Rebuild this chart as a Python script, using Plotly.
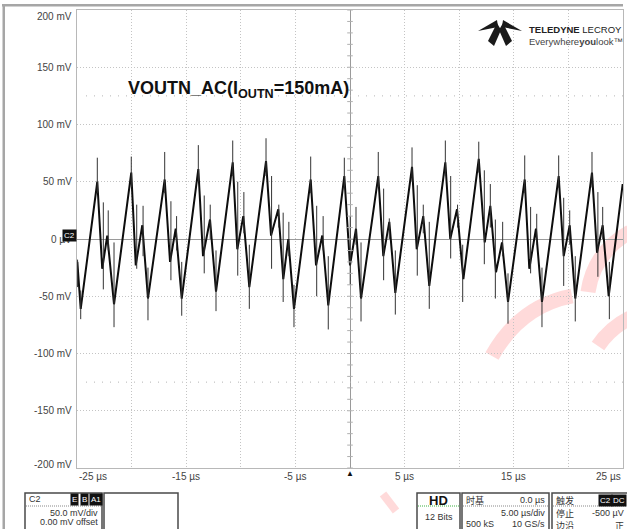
import plotly.graph_objects as go

# waveform vertices (time in us, amplitude in mV)
t_us = [-24.97, -24.66, -23.14, -22.69, -22.23, -21.61, -20.03, -19.62, -19.02, -18.50,
        -16.97, -16.48, -15.96, -15.41, -13.89, -13.46, -12.82, -12.27, -10.74, -10.32,
        -9.77, -9.22, -7.69, -7.23, -6.57, -6.11, -5.65, -5.13, -3.60, -3.11,
        -2.54, -1.99, -0.52, 0.00, 0.55, 1.01, 2.59, 3.05, 3.60, 4.15,
        5.68, 6.11, 6.71, 7.26, 8.73, 9.18, 9.80, 10.38, 11.79, 12.34,
        12.85, 13.37, 13.92, 14.47, 16.00, 16.42, 17.03, 17.58, 19.11, 19.57,
        20.12, 20.63, 22.16, 22.62, 23.14, 23.69, 24.97]
v_mv = [-20, -61, 50, -26, 3, -57, 58, -23, 12, -52,
        52, -20, 9, -52, 61, -15, 17, -46, 67, -9,
        20, -42, 68, 3, 26, -35, 0, -61, 52, -23,
        3, -58, 55, -23, 9, -52, 55, -15, 15, -47,
        63, -9, 20, -41, 67, 0, 26, -35, 70, -3,
        29, -29, -3, -55, 52, -26, 9, -55, 55, -15,
        12, -52, 58, -12, 12, -50, 48]

# narrow glitches on top of the ripple (time, low end, high end)
spike_t = [-24.95, -24.66, -23.14, -22.59, -22.14, -21.61,
           -20.03, -19.53, -18.95, -18.50,
           -16.97, -16.40, -15.88, -15.41,
           -13.89, -13.35, -12.80, -12.27,
           -10.74, -10.28, -9.72, -9.22,
           -7.69, -7.18, -6.52, -6.12, -5.60, -5.13,
           -3.60, -3.05, -2.46, -1.99,
           -0.52, 0.02, 0.55, 1.01,
           2.59, 3.08, 3.60, 4.15,
           5.68, 6.16, 6.71, 7.26,
           8.73, 9.22, 9.85, 10.32,
           11.79, 12.30, 12.85, 13.31, 13.98, 14.47,
           16.00, 16.54, 17.10, 17.58,
           19.11, 19.57, 20.12, 20.63,
           22.16, 22.70, 23.14, 23.75]
spike_lo = [-42, -70, 40, -44, -10, -77,
            45, -26, -15, -71,
            40, -36, -10, -67,
            50, -30, 0, -63,
            55, -32, 5, -61,
            55, -26, 10, -55, -15, -77,
            40, -50, -10, -79,
            45, -40, -5, -72,
            45, -36, 0, -66,
            50, -32, 5, -61,
            55, -17, 10, -55,
            58, -22, 10, -52, -15, -74,
            40, -30, -5, -77,
            45, -41, -5, -72,
            45, -33, 0, -70]
spike_hi = [-18, -45, 71, 32, 25, -3,
            72, 30, 29, -25,
            76, 33, 20, -20,
            82, 38, 30, -10,
            86, 50, 41, -5,
            88, 55, 30, 23, 15, -40,
            72, 29, 20, -15,
            71, 20, 28, -3,
            76, 44, 18, -10,
            80, 47, 30, 15,
            86, 55, 30, -5,
            85, 60, 48, 17, 15, -30,
            73, 28, 22, -25,
            73, 36, 25, -15,
            76, 41, 28, -20]

y_grid = [200, 150, 100, 50, 0, -50, -100, -150, -200]
y_text = ["200 mV", "150 mV", "100 mV", "50 mV", "0 \u00b5V", "-50 mV", "-100 mV", "-150 mV", "-200 mV"]
x_grid = [-25, -20, -15, -10, -5, 0, 5, 10, 15, 20, 25]
x_lab = [-25, -15, -5, 5, 15, 25]
x_text = ["-25 \u00b5s", "-15 \u00b5s", "-5 \u00b5s", "5 \u00b5s", "15 \u00b5s", "25 \u00b5s"]
cursor_levels = [125, -125]

W, H = 627, 529
L, R, T, B = 77, 4, 10, 61
FONT = "Liberation Sans, Arial, sans-serif"
CJK = "Noto Sans CJK SC, sans-serif"


def px(x):
    return (x - L) / (W - L - R)


def py(y):
    return (H - B - y) / (H - T - B)


fig = go.Figure()

fig.add_trace(go.Scatter(x=t_us, y=v_mv, mode="lines",
                         line=dict(color="#0d0d0d", width=2), hoverinfo="skip"))

sx, sy = [], []
for t, lo, hi in zip(spike_t, spike_lo, spike_hi):
    sx += [t, t, None]
    sy += [lo, hi, None]
fig.add_trace(go.Scatter(x=sx, y=sy, mode="lines",
                         line=dict(color="#333333", width=1), hoverinfo="skip"))

# small division marks on the centre cross
fig.add_trace(go.Scatter(x=[0] * 41, y=[-200 + 10 * i for i in range(41)], mode="markers",
                         marker=dict(symbol="line-ew", size=4, line=dict(color="#b0b0b0", width=1)),
                         hoverinfo="skip"))

shapes = []
for lv in cursor_levels:
    shapes.append(dict(type="line", xref="paper", yref="y", x0=px(86), x1=1, y0=lv, y1=lv,
                       line=dict(color="#b5b5b5", width=1, dash="1px,7px")))

# watermark arcs
wm = "rgba(255,70,70,0.2)"
for path in [
    f"M {px(492)},{py(356)} Q {px(520)},{py(306)} {px(572)},{py(296)}",
    f"M {px(588)},{py(292)} Q {px(594)},{py(252)} {px(630)},{py(232)}",
    f"M {px(598)},{py(346)} Q {px(610)},{py(328)} {px(630)},{py(318)}",
]:
    shapes.append(dict(type="path", xref="paper", yref="paper", path=path, layer="below",
                       line=dict(color=wm, width=15)))

# screen chrome: top and left bars
shapes.append(dict(type="rect", xref="paper", yref="paper", x0=px(2), x1=px(623), y0=py(4), y1=py(6.5),
                   fillcolor="#a6a6a6", line=dict(width=0)))
shapes.append(dict(type="rect", xref="paper", yref="paper", x0=px(2.5), x1=px(5), y0=py(4), y1=py(529),
                   fillcolor="#a6a6a6", line=dict(width=0)))

# teledyne emblem
emblem = [
    [(478, 31), (497, 20), (498, 27)],
    [(522, 31), (503, 20), (502, 27)],
    [(497, 23), (501, 30), (494, 46), (488, 41)],
    [(503, 23), (499, 30), (506, 46), (512, 41)],
]
for poly in emblem:
    path = "M " + " L ".join(f"{px(a):.5f},{py(b):.5f}" for a, b in poly) + " Z"
    shapes.append(dict(type="path", xref="paper", yref="paper", path=path,
                       fillcolor="#1a1a1a", line=dict(width=0)))

# info boxes along the bottom
boxes = [(25, 102), (104, 178), (417, 460), (462, 549), (552, 640)]
for x0, x1 in boxes:
    shapes.append(dict(type="rect", xref="paper", yref="paper", x0=px(x0), x1=px(x1), y0=py(493), y1=py(535),
                       line=dict(color="#4a4a4a", width=1.5), fillcolor="white"))
for x0, x1 in [(25, 102), (462, 549), (552, 640)]:
    shapes.append(dict(type="line", xref="paper", yref="paper", x0=px(x0 + 1), x1=px(x1 - 1), y0=py(506), y1=py(506),
                       line=dict(color="#888888", width=1, dash="1px,1px")))
shapes.append(dict(type="line", xref="paper", yref="paper", x0=px(418), x1=px(459), y0=py(506), y1=py(506),
                   line=dict(color="#3cb043", width=1, dash="1px,1px")))

# pink watermark dash near the bottom
shapes.append(dict(type="line", xref="paper", yref="paper", x0=px(383), x1=px(396), y0=py(494), y1=py(511),
                   line=dict(color=wm, width=8)))

ann = []
for v, txt in zip(y_grid, y_text):
    shift = -6 if v == 200 else (4 if v == -200 else 0)
    ann.append(dict(x=0, xref="paper", y=v, yref="y", text=txt, showarrow=False, xanchor="right",
                    xshift=-3, yshift=shift, font=dict(family=FONT, size=10, color="#444444")))
for v, txt in zip(x_lab, x_text):
    anchor = "left" if v == -25 else ("right" if v == 25 else "center")
    ann.append(dict(x=v, xref="x", y=0, yref="paper", text=txt, showarrow=False, xanchor=anchor,
                    yanchor="top", yshift=-1, font=dict(family=FONT, size=10, color="#444444")))

ann.append(dict(x=px(126), y=py(90), xref="paper", yref="paper", xanchor="left", yanchor="middle",
                text="<b>VOUTN_AC(I<sub>OUTN</sub>=150mA)</b>", showarrow=False,
                font=dict(family=FONT, size=18, color="#111111")))
ann.append(dict(x=px(527), y=py(29), xref="paper", yref="paper", xanchor="left", yanchor="middle",
                text="<b>TELEDYNE</b> LECROY", showarrow=False,
                font=dict(family=FONT, size=9.5, color="#222222")))
ann.append(dict(x=px(527), y=py(41), xref="paper", yref="paper", xanchor="left", yanchor="middle",
                text="Everywhere<b>you</b>look\u2122", showarrow=False,
                font=dict(family=FONT, size=9.5, color="#444444")))

# channel tag on the zero line, trigger marker
ann.append(dict(x=0, xref="paper", y=0, yref="y", xanchor="right", yshift=4, text="C2", showarrow=False,
                bgcolor="#111111", borderpad=1, font=dict(family=FONT, size=8, color="white")))
ann.append(dict(x=0, xref="x", y=0, yref="paper", yanchor="top", yshift=1, text="\u25b2", showarrow=False,
                font=dict(family=FONT, size=8, color="#111111")))


def txt(x, y, s, anchor="left", size=9, family=FONT, bold=False, color="#333333"):
    ann.append(dict(x=px(x), y=py(y), xref="paper", yref="paper", xanchor=anchor, yanchor="middle",
                    text=f"<b>{s}</b>" if bold else s, showarrow=False,
                    font=dict(family=family, size=size, color=color)))


def badge(x, y, s):
    ann.append(dict(x=px(x), y=py(y), xref="paper", yref="paper", xanchor="left", yanchor="middle",
                    text=s, showarrow=False, bgcolor="#111111", borderpad=1,
                    font=dict(family=FONT, size=8, color="white")))


txt(27, 499, "C2")
badge(70, 499, "E")
badge(80, 499, "B")
badge(89, 499, "A1")
txt(100, 513, "50.0 mV/div", anchor="right")
txt(100, 522, "0.00 mV offset", anchor="right")

txt(438.5, 500, "HD", anchor="center", size=13, bold=True, color="#111111")
txt(438.5, 517, "12 Bits", anchor="center")

txt(464, 500, "\u65f6\u57fa", family=CJK)
txt(547, 500, "0.0 \u00b5s", anchor="right")
txt(547, 513, "5.00 \u00b5s/div", anchor="right")
txt(464, 524, "500 kS")
txt(547, 524, "10 GS/s", anchor="right")

txt(554, 500, "\u89e6\u53d1", family=CJK)
badge(598, 500, "C2")
badge(611, 500, "DC")
txt(554, 513, "\u505c\u6b62", family=CJK)
txt(626, 513, "-500 \u00b5V", anchor="right")
txt(554, 525, "\u8fb9\u6cbf", family=CJK)
txt(626, 525, "\u6b63", anchor="right", family=CJK)

axis_common = dict(showgrid=True, gridcolor="#c4c4c4", gridwidth=1, griddash="1px,2px",
                   zeroline=True, zerolinecolor="#9a9a9a", zerolinewidth=1,
                   showline=True, mirror=True, linecolor="#b8b8b8", linewidth=1,
                   showticklabels=False, ticks="", fixedrange=True)

fig.update_layout(
    width=W, height=H,
    margin=dict(l=L, r=R, t=T, b=B),
    paper_bgcolor="white", plot_bgcolor="white",
    showlegend=False,
    xaxis=dict(range=[-25, 25], tickvals=x_grid, **axis_common),
    yaxis=dict(range=[-200, 200], tickvals=y_grid, **axis_common),
    shapes=shapes,
    annotations=ann,
)

fig.write_html("out.html", config={"displayModeBar": False},
               post_script="document.body.style.margin='0';document.body.style.overflow='hidden';")
